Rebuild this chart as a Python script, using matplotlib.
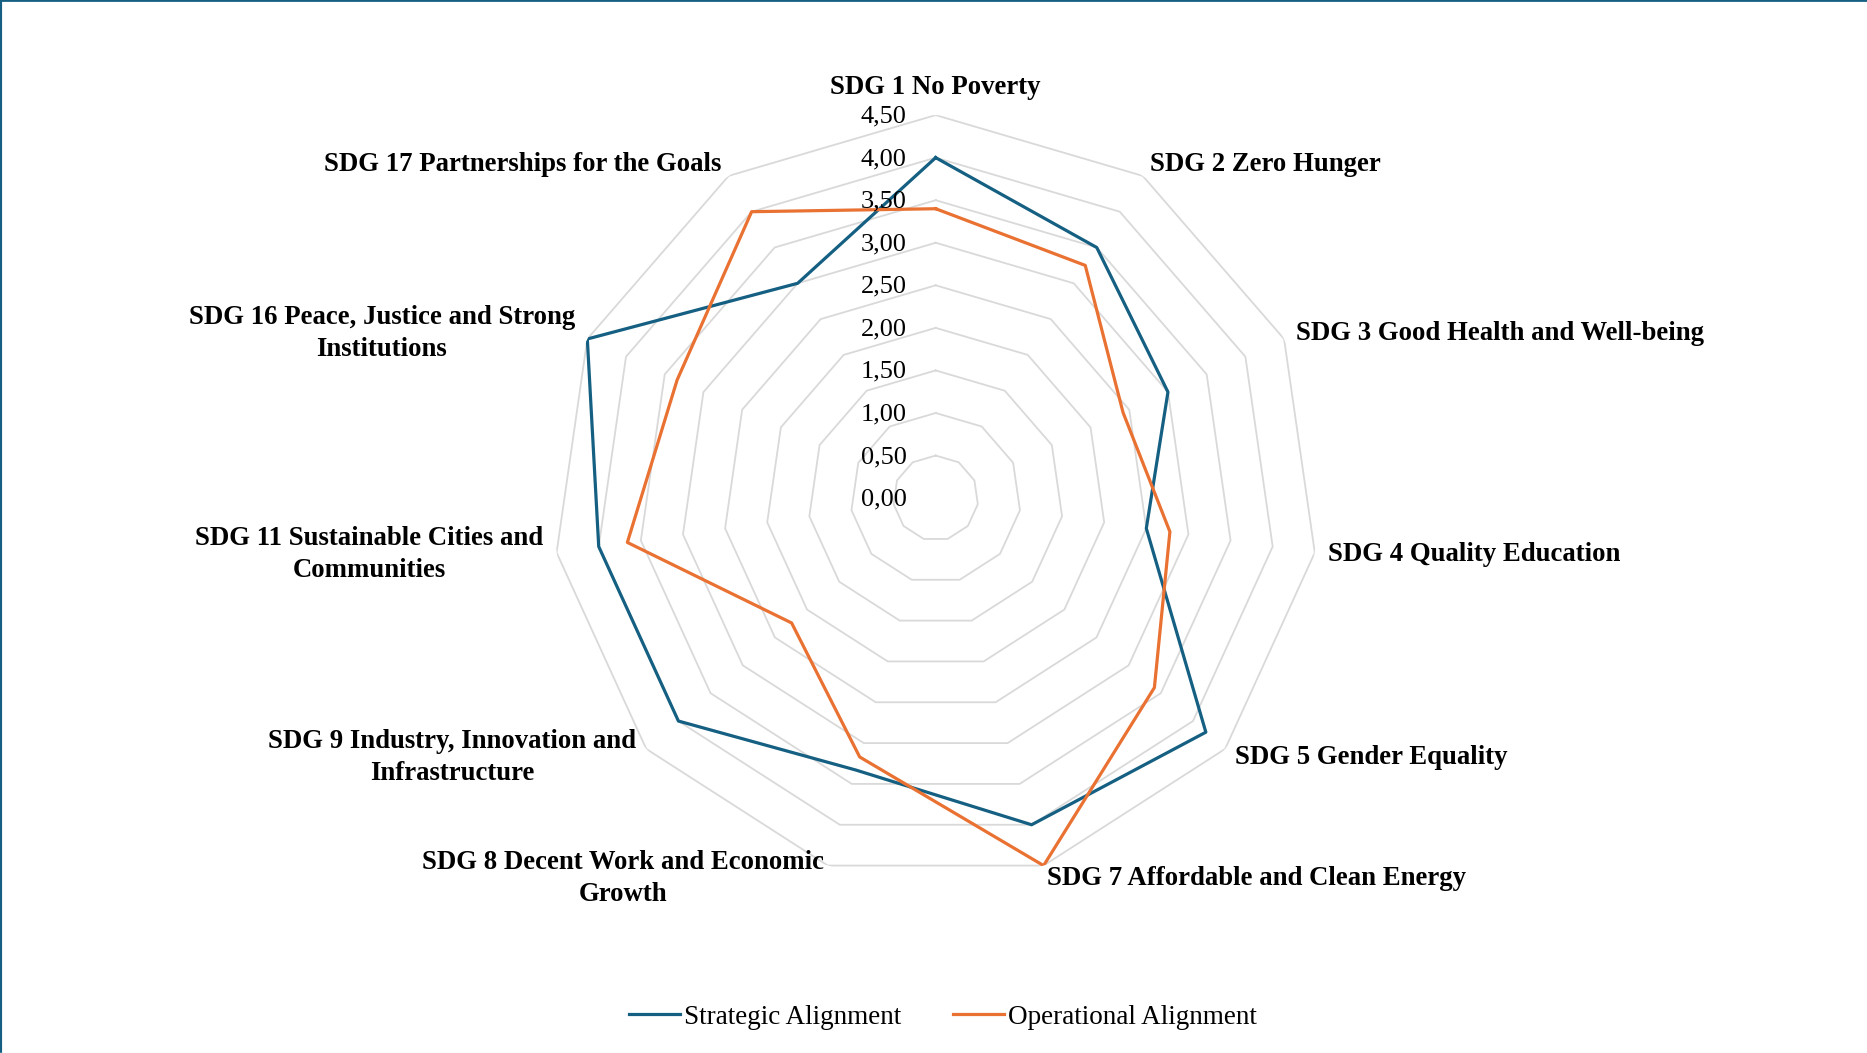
import numpy as np
import matplotlib
matplotlib.use("Agg")
import matplotlib.pyplot as plt
from matplotlib.lines import Line2D
from matplotlib.transforms import offset_copy

plt.rcParams['font.family'] = ['Liberation Serif', 'DejaVu Serif']

categories = [
    "SDG 1 No Poverty",
    "SDG 2 Zero Hunger",
    "SDG 3 Good Health and Well-being",
    "SDG 4 Quality Education",
    "SDG 5 Gender Equality",
    "SDG 7 Affordable and Clean Energy",
    "SDG 8 Decent Work and Economic\nGrowth",
    "SDG 9 Industry, Innovation and\nInfrastructure",
    "SDG 11 Sustainable Cities and\nCommunities",
    "SDG 16 Peace, Justice and Strong\nInstitutions",
    "SDG 17 Partnerships for the Goals",
]
strategic = [4.0, 3.5, 3.0, 2.5, 4.2, 4.0, 3.33, 4.0, 4.0, 4.5, 3.0]
operational = [3.4, 3.25, 2.42, 2.78, 3.4, 4.5, 3.17, 2.24, 3.66, 3.34, 4.0]
tick_values = [0.0, 0.5, 1.0, 1.5, 2.0, 2.5, 3.0, 3.5, 4.0, 4.5]
tick_labels = ["0,00", "0,50", "1,00", "1,50", "2,00", "2,50", "3,00", "3,50", "4,00", "4,50"]
series_names = ["Strategic Alignment", "Operational Alignment"]

BLUE = "#156082"
ORANGE = "#E97132"
GRID = "#D9D9D9"

W, H = 1867, 1053
fig = plt.figure(figsize=(W / 100, H / 100), dpi=100)
fig.patch.set_facecolor("white")

cx, cy, R = 935.7, 498.1, 383.0
ax = fig.add_axes([(cx - R) / W, 1 - (cy + R) / H, 2 * R / W, 2 * R / H], projection="polar")
ax.set_theta_zero_location("N")
ax.set_theta_direction(-1)
ax.set_ylim(0, 4.5)
ax.grid(False)
ax.spines["polar"].set_visible(False)
ax.set_xticks([])
ax.set_yticks([])
ax.patch.set_alpha(0)

n = len(categories)
angles = np.arange(n) * 2 * np.pi / n
closed = np.append(angles, angles[0])

for r in tick_values[1:]:
    ax.plot(closed, [r] * (n + 1), color=GRID, lw=1.3, zorder=1)

ax.plot(closed, strategic + strategic[:1], color=BLUE, lw=2.3, zorder=3, label=series_names[0])
ax.plot(closed, operational + operational[:1], color=ORANGE, lw=2.3, zorder=3, label=series_names[1])

tick_tr = offset_copy(ax.transData, fig=fig, x=-29, y=-1.5, units="dots")
for v, lab in zip(tick_values, tick_labels):
    ax.text(0, v, lab, transform=tick_tr, ha="right", va="center", fontsize=19, color="black", zorder=4)

for ang, lab in zip(angles, categories):
    s = np.sin(ang)
    if abs(s) < 1e-6:
        ax.text(ang, 4.83, lab, ha="center", va="center", fontsize=19.3, fontweight="bold", zorder=4)
    else:
        ha = "left" if s > 0 else "right"
        ax.text(ang, 4.66, lab, ha=ha, va="center", fontsize=19.3, fontweight="bold",
                multialignment="center", linespacing=1.38, zorder=4)

handles = [Line2D([], [], color=BLUE, lw=2.3), Line2D([], [], color=ORANGE, lw=2.3)]
fig.legend(handles, series_names, loc="center", bbox_to_anchor=(943 / W, 1 - 1017 / H), ncol=2,
           frameon=False, fontsize=19.5, handlelength=1.9, handletextpad=0.15, columnspacing=1.9)

fig.add_artist(Line2D([0, 0], [0, 1], transform=fig.transFigure, color=BLUE, lw=3.0))
fig.add_artist(Line2D([0, 1], [1, 1], transform=fig.transFigure, color=BLUE, lw=2.0))
fig.add_artist(Line2D([0, 1], [0.5 / H, 0.5 / H], transform=fig.transFigure, color="#E4ECF1", lw=1.0))

fig.savefig("out.png", dpi=100, facecolor="white")
